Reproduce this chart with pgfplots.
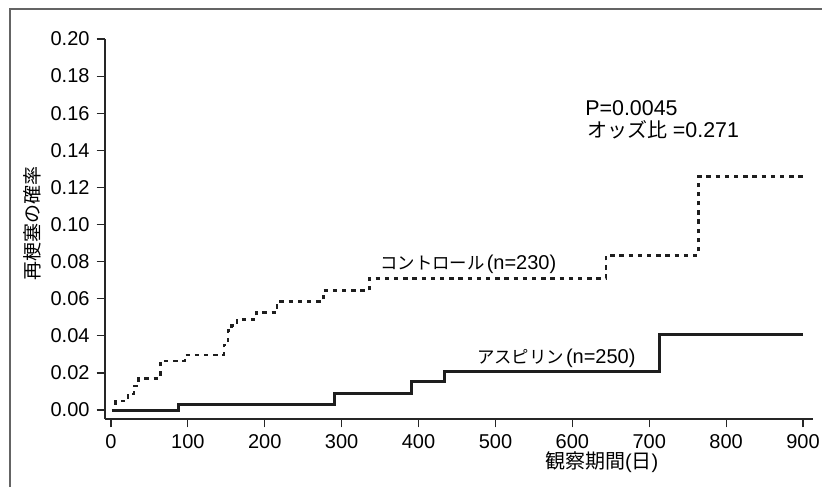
\documentclass[border=0pt]{standalone}
\usepackage{fontspec}
\setmainfont{Liberation Sans}
\newfontfamily\jp{Noto Sans CJK JP}
\usepackage{pgfplots}
\pgfplotsset{compat=1.18}
\definecolor{ink}{RGB}{30,30,30}
\definecolor{framegray}{RGB}{100,100,100}

\begin{document}
\begin{tikzpicture}
\path[use as bounding box] (0,0) rectangle (411pt,-243.5pt);
% outer frame (top and left only)
\draw[framegray, line width=1pt] (5.2pt,-243.5pt) -- (5.2pt,-4.7pt) -- (411pt,-4.7pt);
\begin{axis}[
    at={(52.5pt,-209.5pt)}, anchor=south west,
    scale only axis, width=354pt, height=190pt,
    xmin=-7.8, xmax=913, ymin=-0.00485, ymax=0.20,
    axis lines*=left,
    axis line style={black!85, line width=0.6pt},
    tick style={black!85, line width=0.6pt},
    tick align=outside, major tick length=4.2pt,
    xtick={0,100,200,300,400,500,600,700,800,900},
    ytick={0,0.02,0.04,0.06,0.08,0.10,0.12,0.14,0.16,0.18,0.20},
    yticklabel style={/pgf/number format/.cd, fixed, fixed zerofill, precision=2},
    ticklabel style={font=\fontsize{10}{12}\selectfont},
    /pgf/number format/assume math mode=true,
    clip=false,
]
% コントロール
\addplot[const plot, ink, line width=1.3pt, dash pattern=on 2.2pt off 2.4pt] coordinates {
    (1,0) (6,0.0049) (22,0.0087) (30,0.013) (36,0.0171) (64,0.0264) (96,0.0296)
    (147,0.035) (152,0.043) (157,0.0455) (164,0.0489) (189,0.0527) (216,0.0584)
    (276,0.0643) (336,0.0710) (644,0.0834) (764,0.1258) (899.5,0.1258)
};
% アスピリン
\addplot[const plot, ink, line width=1.5pt] coordinates {
    (1,0) (87.5,0.0032) (290.5,0.0090) (390.5,0.0153) (434,0.0210) (714,0.0408) (899.5,0.0408)
};
\node[anchor=west, inner sep=0] at (axis cs:349.8,0.0787)
    {{\jp\fontsize{8.7}{10}\selectfont コントロール}\hspace{1pt}{\fontsize{10}{12}\selectfont(n=230)}};
\node[anchor=west, inner sep=0] at (axis cs:475.5,0.0280)
    {{\jp\fontsize{8.7}{10}\selectfont アスピリン}\hspace{1pt}{\fontsize{10}{12}\selectfont(n=250)}};
\node[anchor=west, inner sep=0] at (axis cs:616.4,0.1628)
    {\fontsize{10.7}{12}\selectfont P=0.0045};
\node[anchor=west, inner sep=0] at (axis cs:618.6,0.1509)
    {{\jp\fontsize{10}{12}\selectfont オッズ比}\fontsize{10.7}{12}\selectfont\ =0.271};
\node[inner sep=0, rotate=90] at (axis cs:-102.7,0.1008)
    {\jp\fontsize{9.5}{11}\selectfont 再梗塞の確率};
\node[anchor=west, inner sep=0] at (axis cs:564,-0.0279)
    {\fontsize{10}{12}\selectfont{\jp 観察期間}({\jp 日})};
\end{axis}
\end{tikzpicture}
\end{document}
